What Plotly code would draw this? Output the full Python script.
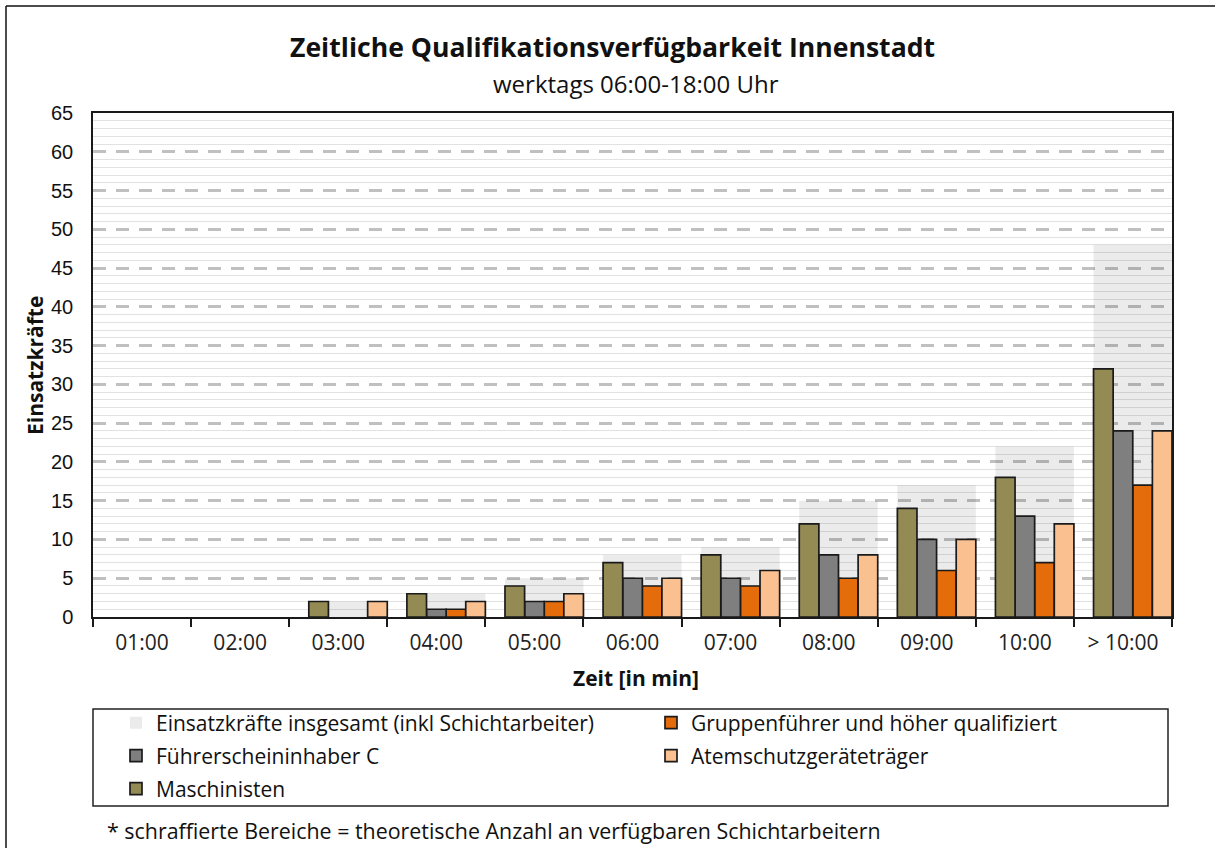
import plotly.graph_objects as go

# Kategorien (Zeit bis Eintreffen) und Anzahl der Einsatzkräfte je Qualifikation
zeiten = ["01:00", "02:00", "03:00", "04:00", "05:00", "06:00",
          "07:00", "08:00", "09:00", "10:00", "> 10:00"]
insgesamt = [0, 0, 2, 3, 5, 8, 9, 15, 17, 22, 48]
maschinisten = [0, 0, 2, 3, 4, 7, 8, 12, 14, 18, 32]
fuehrerschein_c = [0, 0, 0, 1, 2, 5, 5, 8, 10, 13, 24]
gruppenfuehrer = [0, 0, 0, 1, 2, 4, 4, 5, 6, 7, 17]
atemschutz = [0, 0, 2, 2, 3, 5, 6, 8, 10, 12, 24]

FONT = "Open Sans"
W, H = 1215, 848
PL, PR, PT, PB = 93, 1172, 113, 617          # Zeichenfläche in Pixeln
PW, PH = PR - PL, PB - PT


def px(x):
    return (x - PL) / PW


def py(y):
    return (PB - y) / PH


def ohne_null(values):
    # Werte 0 werden nicht als Balken gezeichnet (sonst Umrandung auf der Achse)
    return [v if v > 0 else None for v in values]


outline = dict(color="#1a1a1a", width=1.7)

fig = go.Figure()

# Gesamtzahl als hinterlegte Fläche über die ganze Gruppenbreite
fig.add_trace(go.Bar(
    x=zeiten, y=insgesamt, name="Einsatzkräfte insgesamt (inkl Schichtarbeiter)",
    width=0.8, offset=-0.3, legend="legend",
    marker=dict(color="rgba(0,0,0,0.08)", line=dict(width=0)),
    hoverinfo="skip",
))
fig.add_trace(go.Bar(
    x=zeiten, y=ohne_null(gruppenfuehrer), name="Gruppenführer und höher qualifiziert",
    width=0.2, offset=0.1, legend="legend",
    marker=dict(color="#E46C0A", line=outline),
))
fig.add_trace(go.Bar(
    x=zeiten, y=ohne_null(fuehrerschein_c), name="Führerscheininhaber C",
    width=0.2, offset=-0.1, legend="legend2",
    marker=dict(color="#7F7F7F", line=outline),
))
fig.add_trace(go.Bar(
    x=zeiten, y=ohne_null(atemschutz), name="Atemschutzgeräteträger",
    width=0.2, offset=0.3, legend="legend2",
    marker=dict(color="#FAC090", line=outline),
))
fig.add_trace(go.Bar(
    x=zeiten, y=ohne_null(maschinisten), name="Maschinisten",
    width=0.2, offset=-0.3, legend="legend3",
    marker=dict(color="#948A54", line=outline),
))


def legend_row(y_center):
    return dict(
        orientation="h", x=px(116), xanchor="left", y=py(y_center), yanchor="middle",
        entrywidth=490, entrywidthmode="pixels",
        font=dict(family=FONT, size=21, color="#111"),
        bgcolor="rgba(0,0,0,0)", borderwidth=0,
        traceorder="normal", itemclick=False, itemdoubleclick=False,
    )


fig.update_layout(
    width=W, height=H,
    margin=dict(l=PL, r=W - PR, t=PT, b=H - PB, autoexpand=False),
    paper_bgcolor="white", plot_bgcolor="white",
    barmode="overlay",
    font=dict(family=FONT, color="black"),
    showlegend=True,
    legend=legend_row(723),
    legend2=legend_row(756),
    legend3=legend_row(789),
    xaxis=dict(
        type="category", tickson="boundaries", ticks="outside", ticklen=8,
        tickcolor="#1a1a1a", tickwidth=1.5,
        showline=True, linecolor="#1a1a1a", linewidth=1.5, mirror=True,
        showgrid=False, automargin=False, ticklabelstandoff=6,
        tickfont=dict(family=FONT, size=21, color="#222"),
        range=[-0.5, 10.5],
    ),
    yaxis=dict(
        range=[0, 65], dtick=5, tick0=0, automargin=False,
        showline=True, linecolor="#1a1a1a", linewidth=1.5, mirror=True,
        ticks="", zeroline=False, ticklabelstandoff=14,
        showgrid=True, gridcolor="#c0c0c0", gridwidth=3, griddash="13px,10px",
        minor=dict(dtick=1, showgrid=True, gridcolor="#e2e2e2", gridwidth=1, griddash="solid"),
        tickfont=dict(family="Liberation Sans, Arial", size=20, color="#111"),
    ),
    annotations=[
        dict(text="<b>Zeitliche Qualifikationsverfügbarkeit Innenstadt</b>",
             xref="paper", yref="paper", x=px(612), y=py(47), xanchor="center", yanchor="middle",
             showarrow=False, font=dict(family=FONT, size=26.6, color="#111")),
        dict(text="werktags 06:00-18:00 Uhr",
             xref="paper", yref="paper", x=px(636), y=py(83), xanchor="center", yanchor="middle",
             showarrow=False, font=dict(family=FONT, size=24, color="#111")),
        dict(text="<b>Zeit [in min]</b>",
             xref="paper", yref="paper", x=px(636), y=py(678), xanchor="center", yanchor="middle",
             showarrow=False, font=dict(family=FONT, size=21, color="#111")),
        dict(text="<b>Einsatzkräfte</b>", textangle=-90,
             xref="paper", yref="paper", x=px(35), y=py(366), xanchor="center", yanchor="middle",
             showarrow=False, font=dict(family=FONT, size=21, color="#111")),
        dict(text="* schraffierte Bereiche = theoretische Anzahl an verfügbaren Schichtarbeitern",
             xref="paper", yref="paper", x=px(105), y=py(830), xanchor="left", yanchor="middle",
             showarrow=False, font=dict(family=FONT, size=21.4, color="#111")),
    ],
    shapes=[
        # Rahmen der Legende
        dict(type="rect", xref="paper", yref="paper",
             x0=px(93), x1=px(1168), y0=py(806), y1=py(709),
             line=dict(color="#222", width=1.5), fillcolor="rgba(0,0,0,0)"),
        # Außenrahmen der Grafik (links und oben)
        dict(type="line", xref="paper", yref="paper",
             x0=px(6), x1=px(1216), y0=py(6), y1=py(6),
             line=dict(color="#111", width=1.5)),
        dict(type="line", xref="paper", yref="paper",
             x0=px(6), x1=px(6), y0=py(6), y1=py(850),
             line=dict(color="#111", width=1.5)),
    ],
)

fig.write_html("out.html")
